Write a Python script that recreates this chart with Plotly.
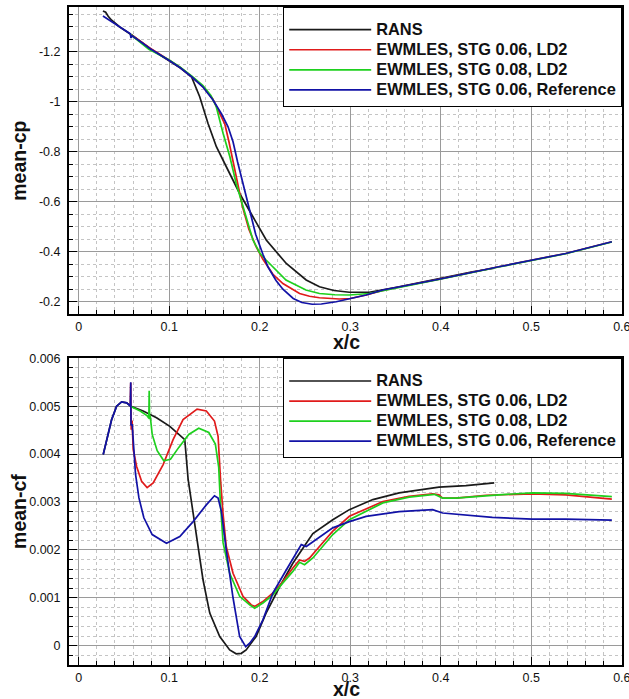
import plotly.graph_objects as go

# ---------------- data: mean-cp (top) ----------------
rans_cp_x = [0.0268, 0.0298, 0.0326, 0.0364, 0.045, 0.059, 0.079, 0.0996, 0.1125, 0.1246, 0.1337, 0.1429,
             0.1521, 0.1631, 0.1778, 0.1925, 0.2072, 0.2293, 0.2513, 0.266, 0.282, 0.299, 0.321, 0.354,
             0.398, 0.435, 0.459]
rans_cp = [-1.363, -1.358, -1.342, -1.326, -1.300, -1.266, -1.212, -1.166, -1.135, -1.100, -1.020, -0.913,
           -0.820, -0.740, -0.633, -0.540, -0.447, -0.353, -0.287, -0.260, -0.245, -0.238, -0.238, -0.260,
           -0.292, -0.320, -0.334]

stg06_cp_x = [0.058, 0.079, 0.0996, 0.1125, 0.125, 0.137, 0.148, 0.156, 0.1615, 0.166, 0.1705, 0.1755,
              0.181, 0.188, 0.196, 0.2035, 0.2146, 0.2256, 0.244, 0.255, 0.266, 0.288, 0.300, 0.3175,
              0.336, 0.36, 0.398, 0.464, 0.538, 0.589]
stg06_cp = [-1.268, -1.214, -1.167, -1.136, -1.100, -1.062, -1.012, -0.955, -0.910, -0.840, -0.760, -0.670,
            -0.580, -0.490, -0.420, -0.370, -0.310, -0.273, -0.233, -0.222, -0.216, -0.211, -0.213, -0.227,
            -0.245, -0.263, -0.290, -0.340, -0.393, -0.440]

stg08_cp_x = [0.057, 0.065, 0.0775, 0.0996, 0.1125, 0.125, 0.137, 0.146, 0.152, 0.1595, 0.167, 0.174,
              0.1815, 0.1925, 0.200, 0.207, 0.229, 0.251, 0.266, 0.283, 0.299, 0.321, 0.343, 0.36, 0.398,
              0.464, 0.538, 0.589]
stg08_cp = [-1.270, -1.248, -1.210, -1.168, -1.137, -1.102, -1.066, -1.025, -0.980, -0.874, -0.780, -0.673,
            -0.580, -0.447, -0.395, -0.367, -0.287, -0.247, -0.233, -0.228, -0.227, -0.233, -0.249, -0.261,
            -0.289, -0.339, -0.392, -0.439]

ref_cp_x = [0.0268, 0.040, 0.050, 0.057, 0.0578, 0.059, 0.070, 0.079, 0.0996, 0.1125, 0.125, 0.137, 0.1484,
            0.158, 0.165, 0.1705, 0.1755, 0.1808, 0.1881, 0.1955, 0.2035, 0.209, 0.218, 0.2256, 0.237,
            0.2465, 0.258, 0.268, 0.2845, 0.299, 0.3175, 0.336, 0.36, 0.398, 0.464, 0.538, 0.589]
ref_cp = [-1.343, -1.312, -1.288, -1.272, -1.255, -1.264, -1.236, -1.212, -1.166, -1.135, -1.099, -1.060,
          -1.007, -0.950, -0.900, -0.840, -0.760, -0.680, -0.580, -0.470, -0.390, -0.340, -0.285, -0.250,
          -0.213, -0.197, -0.190, -0.191, -0.200, -0.212, -0.227, -0.247, -0.264, -0.290, -0.340, -0.393,
          -0.440]

# ---------------- data: mean-cf (bottom) ----------------
rans_cf_x = [0.0271, 0.031, 0.0364, 0.0419, 0.0474, 0.053, 0.0577, 0.0712, 0.086, 0.1007, 0.1117, 0.1172,
             0.1209, 0.1264, 0.1319, 0.1374, 0.1448, 0.1558, 0.1668, 0.174, 0.1797, 0.185, 0.196, 0.207,
             0.222, 0.2366, 0.2514, 0.2587, 0.2807, 0.299, 0.325, 0.354, 0.398, 0.4278, 0.459]
rans_cf = [0.00399, 0.0043, 0.00472, 0.0050, 0.00509, 0.00507, 0.0050, 0.0049, 0.00476, 0.00458, 0.0044,
           0.0043, 0.00347, 0.00277, 0.00207, 0.00137, 0.00068, 0.00019, -0.00009, -0.00017, -0.00016,
           -0.00009, 0.00019, 0.00068, 0.00123, 0.00172, 0.00214, 0.00234, 0.00263, 0.00284, 0.00305,
           0.00319, 0.00331, 0.00334, 0.0034]

stg06_cf_x = [0.0570, 0.0575, 0.0580, 0.0590, 0.0602, 0.064, 0.0695, 0.0756, 0.0823, 0.0933, 0.1043,
              0.1153, 0.1308, 0.141, 0.150, 0.154, 0.1567, 0.1594, 0.163, 0.1705, 0.1815, 0.1907, 0.1944,
              0.2035, 0.2146, 0.2256, 0.2366, 0.244, 0.2495, 0.255, 0.266, 0.2807, 0.299, 0.336, 0.365,
              0.391, 0.398, 0.402, 0.4167, 0.45, 0.501, 0.538, 0.589]
stg06_cf = [0.0050, 0.00549, 0.00451, 0.0047, 0.0041, 0.00374, 0.00343, 0.0033, 0.0034, 0.00378, 0.0043,
            0.00472, 0.00494, 0.0049, 0.00469, 0.00437, 0.00347, 0.00277, 0.00207, 0.00151, 0.00103,
            0.00085, 0.00082, 0.00092, 0.0011, 0.00134, 0.00162, 0.00179, 0.00176, 0.00183, 0.00207,
            0.00239, 0.0027, 0.00301, 0.00312, 0.00317, 0.00315, 0.00308, 0.00308, 0.00314, 0.00317,
            0.00315, 0.00306]

stg08_cf_x = [0.0570, 0.068, 0.0757, 0.0775, 0.0779, 0.0783, 0.079, 0.0812, 0.0867, 0.094, 0.1014, 0.1106,
              0.1216, 0.1326, 0.1437, 0.151, 0.1547, 0.1565, 0.1595, 0.1668, 0.1778, 0.1889, 0.1944,
              0.2035, 0.2146, 0.2256, 0.2366, 0.244, 0.2495, 0.2587, 0.266, 0.2807, 0.299, 0.336, 0.365,
              0.389, 0.393, 0.402, 0.4167, 0.464, 0.501, 0.538, 0.589]
stg08_cf = [0.0050, 0.0049, 0.0048, 0.00475, 0.00532, 0.00473, 0.0048, 0.00441, 0.00407, 0.00386, 0.00389,
            0.00414, 0.00441, 0.00454, 0.00445, 0.00421, 0.00372, 0.0030, 0.00215, 0.00151, 0.00103,
            0.00085, 0.00078, 0.00089, 0.00106, 0.00131, 0.00155, 0.00174, 0.00169, 0.00183, 0.0020,
            0.00232, 0.00263, 0.00298, 0.0031, 0.00315, 0.00316, 0.00308, 0.00308, 0.00315, 0.00319,
            0.00318, 0.00311]

ref_cf_x = [0.0271, 0.031, 0.0364, 0.0419, 0.0474, 0.053, 0.0570, 0.0575, 0.0578, 0.0591, 0.061, 0.0628,
            0.0665, 0.072, 0.0812, 0.097, 0.1117, 0.1264, 0.141, 0.150, 0.154, 0.1577, 0.163, 0.1705,
            0.1778, 0.1845, 0.1889, 0.1944, 0.2035, 0.2146, 0.2293, 0.2404, 0.2459, 0.2514, 0.2624, 0.273,
            0.2807, 0.299, 0.3175, 0.354, 0.391, 0.402, 0.428, 0.457, 0.501, 0.538, 0.589]
ref_cf = [0.00399, 0.0043, 0.00472, 0.0050, 0.00509, 0.00507, 0.0050, 0.0055, 0.0046, 0.00462, 0.00407,
          0.00358, 0.00309, 0.00267, 0.00232, 0.00214, 0.00228, 0.00259, 0.00294, 0.00313, 0.00308, 0.0028,
          0.0020, 0.0010, 0.00019, -0.00002, 0.00005, 0.00019, 0.00054, 0.0011, 0.00158, 0.00193, 0.00211,
          0.00207, 0.00221, 0.00235, 0.00246, 0.00259, 0.0027, 0.0028, 0.00284, 0.00277, 0.00273, 0.00268,
          0.00264, 0.00264, 0.00262]

series_names = ["RANS", "EWMLES, STG 0.06, LD2", "EWMLES, STG 0.08, LD2", "EWMLES, STG 0.06, Reference"]
series_colors = ["#1a1a1a", "#e01b1b", "#1ed01e", "#1212a6"]

x_tickvals = [0, 0.1, 0.2, 0.3, 0.4, 0.5, 0.6]
x_ticktext = ["0", "0.1", "0.2", "0.3", "0.4", "0.5", "0.6"]
cp_tickvals = [-1.2, -1.0, -0.8, -0.6, -0.4, -0.2]
cp_ticktext = ["-1.2", "-1", "-0.8", "-0.6", "-0.4", "-0.2"]
cf_tickvals = [0, 0.001, 0.002, 0.003, 0.004, 0.005, 0.006]
cf_ticktext = ["0", "0.001", "0.002", "0.003", "0.004", "0.005", "0.006"]

# ---------------- figure ----------------
W, H = 629, 699
ML, MR, MT, MB = 69, 7, 7, 34
plot_h = H - MT - MB
top_dom = [(665 - 314) / plot_h, 1.0]
bot_dom = [0.0, (665 - 358.3) / plot_h]

LEG_TEXT_PX = 16.4


def legend_label(name):
    return '<span style="font-size:%spx">%s</span>' % (LEG_TEXT_PX, name)


fig = go.Figure()

cp_sets = [(rans_cp_x, rans_cp), (stg06_cp_x, stg06_cp), (stg08_cp_x, stg08_cp), (ref_cp_x, ref_cp)]
cf_sets = [(rans_cf_x, rans_cf), (stg06_cf_x, stg06_cf), (stg08_cf_x, stg08_cf), (ref_cf_x, ref_cf)]

for (xs, ys), name, col in zip(cp_sets, series_names, series_colors):
    fig.add_trace(go.Scatter(x=xs, y=ys, mode="lines", name=legend_label(name), line=dict(color=col, width=1.7),
                             xaxis="x", yaxis="y", legend="legend"))
for (xs, ys), name, col in zip(cf_sets, series_names, series_colors):
    fig.add_trace(go.Scatter(x=xs, y=ys, mode="lines", name=legend_label(name), line=dict(color=col, width=1.7),
                             xaxis="x2", yaxis="y2", legend="legend2"))

FONT = "Liberation Sans, Arial, sans-serif"
tickfont = dict(family=FONT, size=12.5, color="#111")
minor_x = dict(dtick=0.02, ticks="inside", ticklen=4, tickcolor="black", showgrid=True,
               gridcolor="#c4c4c4", griddash="dot", gridwidth=1)


def xaxis_cfg(anchor):
    return dict(anchor=anchor, domain=[0, 1], range=[-0.0107, 0.6002], tickvals=x_tickvals, ticktext=x_ticktext,
                ticks="inside", ticklen=8, tickwidth=1.2, tickcolor="black", tickfont=tickfont,
                showline=True, linecolor="black", linewidth=2, mirror=True,
                showgrid=True, gridcolor="#9a9a9a", gridwidth=1, zeroline=False, minor=minor_x,
                ticklabelstandoff=0, ticklabeloverflow="allow")


leg_common = dict(xref="paper", yref="paper", xanchor="right", yanchor="top",
                  bgcolor="white", bordercolor="black", borderwidth=1.2,
                  font=dict(family=FONT, size=13.1, color="#111", weight="bold"),
                  title=dict(text="\u00a0", font=dict(family=FONT, size=5)),
                  itemwidth=82, tracegroupgap=0)

fig.update_layout(
    width=W, height=H, margin=dict(l=ML, r=MR, t=MT, b=MB, autoexpand=False),
    paper_bgcolor="white", plot_bgcolor="white",
    xaxis=xaxis_cfg("y"),
    xaxis2=xaxis_cfg("y2"),
    yaxis=dict(anchor="x", domain=top_dom, range=[-0.151, -1.379], tickvals=cp_tickvals, ticktext=cp_ticktext,
               ticks="inside", ticklen=8, tickwidth=1.2, tickcolor="black", tickfont=tickfont,
               showline=True, linecolor="black", linewidth=2, mirror=True,
               showgrid=True, gridcolor="#9a9a9a", gridwidth=1, zeroline=False,
               minor=dict(tickvals=[-1.35 + 0.05 * i for i in range(25)], ticks="inside", ticklen=4,
                          tickcolor="black", showgrid=True, gridcolor="#c4c4c4", griddash="dot"),
               ticklabelstandoff=4, ticklabeloverflow="allow"),
    yaxis2=dict(anchor="x2", domain=bot_dom, range=[-0.000404, 0.006], tickvals=cf_tickvals,
                ticktext=cf_ticktext, ticks="inside", ticklen=8, tickwidth=1.2, tickcolor="black",
                tickfont=tickfont, showline=True, linecolor="black", linewidth=2, mirror=True,
                showgrid=True, gridcolor="#9a9a9a", gridwidth=1, zeroline=False,
                minor=dict(dtick=0.0002, ticks="inside", ticklen=4, tickcolor="black", showgrid=True,
                           gridcolor="#c4c4c4", griddash="dot"),
                ticklabelstandoff=4, ticklabeloverflow="allow"),
    showlegend=True,
    legend=dict(x=1, y=1, **leg_common),
    legend2=dict(x=1, y=bot_dom[1], **leg_common),
)

title_font = dict(family=FONT, size=19.5, color="#111", weight="bold")
fig.add_annotation(text="mean-cp", textangle=-90, x=(18.3 - ML) / (W - ML - MR), y=(top_dom[0] + 1) / 2,
                   xref="paper", yref="paper", showarrow=False, font=title_font, xanchor="center",
                   yanchor="middle")
fig.add_annotation(text="mean-cf", textangle=-90, x=(18.3 - ML) / (W - ML - MR), y=bot_dom[1] / 2,
                   xref="paper", yref="paper", showarrow=False, font=title_font, xanchor="center",
                   yanchor="middle")
fig.add_annotation(text="x/c", x=(346.7 - ML) / (W - ML - MR), y=(665 - 342) / plot_h,
                   xref="paper", yref="paper", showarrow=False, font=title_font, xanchor="center",
                   yanchor="middle")
fig.add_annotation(text="x/c", x=(346.7 - ML) / (W - ML - MR), y=(665 - 689) / plot_h,
                   xref="paper", yref="paper", showarrow=False, font=title_font, xanchor="center",
                   yanchor="middle")

fig.write_html("out.html")
